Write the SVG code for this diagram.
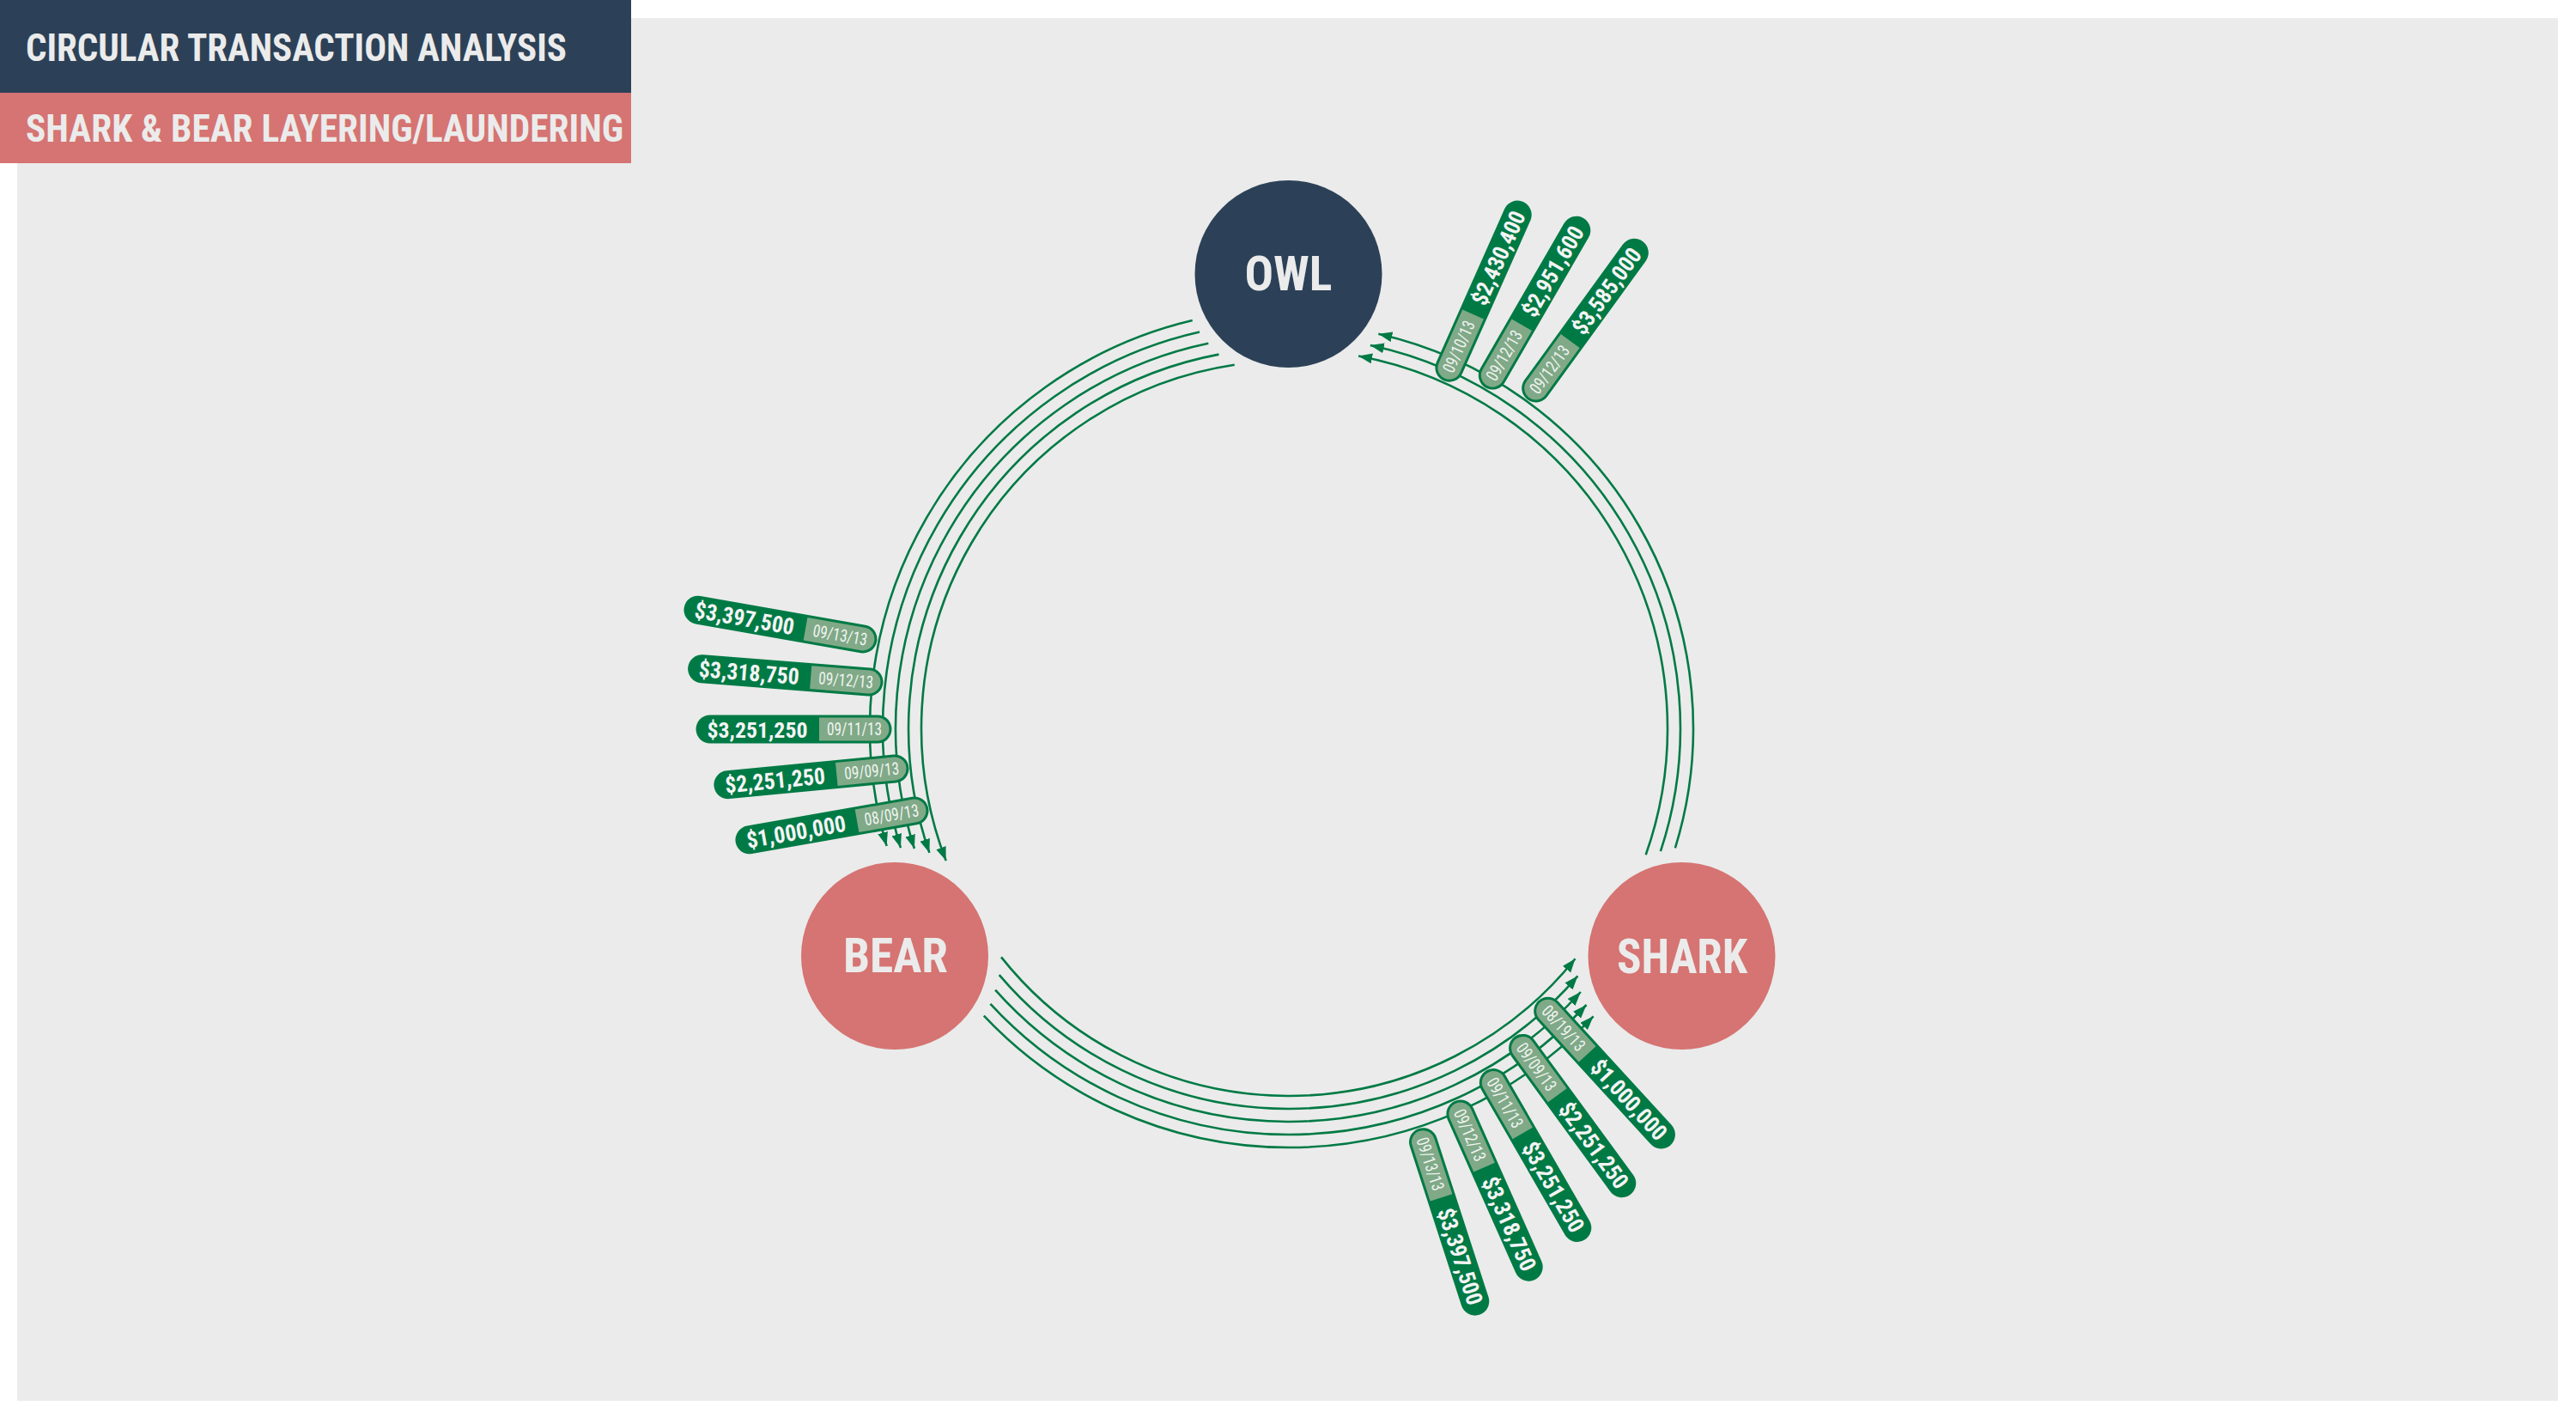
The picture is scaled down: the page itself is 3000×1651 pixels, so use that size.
<svg xmlns="http://www.w3.org/2000/svg" xmlns:xlink="http://www.w3.org/1999/xlink" width="3000" height="1651" viewBox="0 0 3000 1651">
<style>
.cond { font-family: "Liberation Sans Narrow","Roboto Condensed","DejaVu Sans Condensed","Liberation Sans",sans-serif; font-stretch: condensed; }
.title { font-size: 44px; font-weight: 700; fill: #ebebeb; }
.nlabel { font-size: 56px; font-weight: 700; fill: #ebebeb; text-anchor: middle; }
.amt { font-size: 26.5px; font-weight: 700; fill: #f4f4f4; text-anchor: middle; }
.dt { font-size: 20px; font-weight: 400; fill: #f0f4f0; text-anchor: middle; }
.flow { fill: none; stroke: #007a45; stroke-width: 2.6; marker-end: url(#arrow); }
</style>
<defs>
  <marker id="arrow" markerUnits="userSpaceOnUse" markerWidth="17" markerHeight="13" refX="16" refY="6" orient="auto">
    <path d="M0,0 L16,6 L0,12 Z" fill="#007a45"/>
  </marker>
  <g id="pill">
    <rect x="-16.5" y="-16.5" width="228" height="33" rx="16.5" ry="16.5" fill="#007a45"/>
    <path d="M68,-13.5 H0 A13.5,13.5 0 0 0 0,13.5 H68 Z" fill="#80a988"/>
  </g>
</defs>

<rect x="0" y="0" width="3000" height="1651" fill="#ffffff"/>
<rect x="20" y="21" width="2959" height="1610" fill="#ebebeb"/>

<g id="header">
  <rect x="0" y="0" width="735" height="108" fill="#2c4157"/>
  <rect x="0" y="108" width="735" height="82" fill="#d57472"/>
  <text class="cond title" x="30" y="71" textLength="630" lengthAdjust="spacingAndGlyphs">CIRCULAR TRANSACTION ANALYSIS</text>
  <text class="cond title" x="30" y="165" textLength="696" lengthAdjust="spacingAndGlyphs">SHARK &amp; BEAR LAYERING/LAUNDERING</text>
</g>

<g id="connectors">
  <!-- OWL -> BEAR -->
  <path class="flow" d="M1388.7,373.1 A488,488 0 0 0 1032.6,985.0"/>
  <path class="flow" d="M1397.0,386.6 A473,473 0 0 0 1048.9,987.1"/>
  <path class="flow" d="M1407.3,399.7 A458,458 0 0 0 1064.9,988.0"/>
  <path class="flow" d="M1419.5,412.6 A443,443 0 0 0 1082.4,992.9"/>
  <path class="flow" d="M1437.7,424.7 A428,428 0 0 0 1101.7,1002.1"/>
  <!-- BEAR -> SHARK -->
  <path class="flow" d="M1166.0,1114.4 A428,428 0 0 0 1834.5,1116.2"/>
  <path class="flow" d="M1163.7,1135.1 A443,443 0 0 0 1837.4,1136.3"/>
  <path class="flow" d="M1159.1,1152.7 A458,458 0 0 0 1840.8,1155.0"/>
  <path class="flow" d="M1153.4,1168.8 A473,473 0 0 0 1847.5,1170.0"/>
  <path class="flow" d="M1145.8,1182.7 A488,488 0 0 0 1855.6,1183.3"/>
  <!-- SHARK -> OWL -->
  <path class="flow" d="M1916.7,995.2 A441,441 0 0 0 1582.1,414.5"/>
  <path class="flow" d="M1933.9,991.2 A456,456 0 0 0 1595.8,402.0"/>
  <path class="flow" d="M1950.9,987.3 A471,471 0 0 0 1605.3,388.7"/>
</g>

<g id="edge-labels">
  <!-- SHARK -> OWL -->
  <g id="lbl-so-1" transform="translate(1687.9,428.2) rotate(-66)">
    <use href="#pill"/>
    <text class="cond dt" x="27" y="7" textLength="64" lengthAdjust="spacingAndGlyphs">09/10/13</text>
    <text class="cond amt" x="140" y="9.5" textLength="117" lengthAdjust="spacingAndGlyphs">$2,430,400</text>
  </g>
  <g id="lbl-so-2" transform="translate(1738.3,437.1) rotate(-60)">
    <use href="#pill"/>
    <text class="cond dt" x="27" y="7" textLength="64" lengthAdjust="spacingAndGlyphs">09/12/13</text>
    <text class="cond amt" x="140" y="9.5" textLength="117" lengthAdjust="spacingAndGlyphs">$2,951,600</text>
  </g>
  <g id="lbl-so-3" transform="translate(1788.7,452.0) rotate(-54)">
    <use href="#pill"/>
    <text class="cond dt" x="27" y="7" textLength="64" lengthAdjust="spacingAndGlyphs">09/12/13</text>
    <text class="cond amt" x="140" y="9.5" textLength="117" lengthAdjust="spacingAndGlyphs">$3,585,000</text>
  </g>

  <!-- OWL -> BEAR -->
  <g id="lbl-ob-1" transform="translate(1005,744) rotate(10)">
    <use href="#pill" transform="scale(-1,1)"/>
    <text class="cond dt" x="-27" y="7" textLength="64" lengthAdjust="spacingAndGlyphs">09/13/13</text>
    <text class="cond amt" x="-140" y="9.5" textLength="117" lengthAdjust="spacingAndGlyphs">$3,397,500</text>
  </g>
  <g id="lbl-ob-2" transform="translate(1012,794) rotate(4.5)">
    <use href="#pill" transform="scale(-1,1)"/>
    <text class="cond dt" x="-27" y="7" textLength="64" lengthAdjust="spacingAndGlyphs">09/12/13</text>
    <text class="cond amt" x="-140" y="9.5" textLength="117" lengthAdjust="spacingAndGlyphs">$3,318,750</text>
  </g>
  <g id="lbl-ob-3" transform="translate(1022,849) rotate(0)">
    <use href="#pill" transform="scale(-1,1)"/>
    <text class="cond dt" x="-27" y="7" textLength="64" lengthAdjust="spacingAndGlyphs">09/11/13</text>
    <text class="cond amt" x="-140" y="9.5" textLength="117" lengthAdjust="spacingAndGlyphs">$3,251,250</text>
  </g>
  <g id="lbl-ob-4" transform="translate(1042,895) rotate(-5.5)">
    <use href="#pill" transform="scale(-1,1)"/>
    <text class="cond dt" x="-27" y="7" textLength="64" lengthAdjust="spacingAndGlyphs">09/09/13</text>
    <text class="cond amt" x="-140" y="9.5" textLength="117" lengthAdjust="spacingAndGlyphs">$2,251,250</text>
  </g>
  <g id="lbl-ob-5" transform="translate(1065,944) rotate(-10)">
    <use href="#pill" transform="scale(-1,1)"/>
    <text class="cond dt" x="-27" y="7" textLength="64" lengthAdjust="spacingAndGlyphs">08/09/13</text>
    <text class="cond amt" x="-140" y="9.5" textLength="117" lengthAdjust="spacingAndGlyphs">$1,000,000</text>
  </g>

  <!-- BEAR -> SHARK -->
  <g id="lbl-bs-1" transform="translate(1802.7,1177.2) rotate(47.5)">
    <use href="#pill"/>
    <text class="cond dt" x="27" y="7" textLength="64" lengthAdjust="spacingAndGlyphs">08/19/13</text>
    <text class="cond amt" x="140" y="9.5" textLength="117" lengthAdjust="spacingAndGlyphs">$1,000,000</text>
  </g>
  <g id="lbl-bs-2" transform="translate(1773.6,1220.4) rotate(53.8)">
    <use href="#pill"/>
    <text class="cond dt" x="27" y="7" textLength="64" lengthAdjust="spacingAndGlyphs">09/09/13</text>
    <text class="cond amt" x="140" y="9.5" textLength="117" lengthAdjust="spacingAndGlyphs">$2,251,250</text>
  </g>
  <g id="lbl-bs-3" transform="translate(1739.3,1260.6) rotate(60)">
    <use href="#pill"/>
    <text class="cond dt" x="27" y="7" textLength="64" lengthAdjust="spacingAndGlyphs">09/11/13</text>
    <text class="cond amt" x="140" y="9.5" textLength="117" lengthAdjust="spacingAndGlyphs">$3,251,250</text>
  </g>
  <g id="lbl-bs-4" transform="translate(1700.9,1297.0) rotate(66)">
    <use href="#pill"/>
    <text class="cond dt" x="27" y="7" textLength="64" lengthAdjust="spacingAndGlyphs">09/12/13</text>
    <text class="cond amt" x="140" y="9.5" textLength="117" lengthAdjust="spacingAndGlyphs">$3,318,750</text>
  </g>
  <g id="lbl-bs-5" transform="translate(1657.5,1329.7) rotate(72)">
    <use href="#pill"/>
    <text class="cond dt" x="27" y="7" textLength="64" lengthAdjust="spacingAndGlyphs">09/13/13</text>
    <text class="cond amt" x="140" y="9.5" textLength="117" lengthAdjust="spacingAndGlyphs">$3,397,500</text>
  </g>
</g>

<g id="node-owl">
  <circle cx="1500.5" cy="319" r="109" fill="#2c4157"/>
  <text class="cond nlabel" x="1500.5" y="338" textLength="102" lengthAdjust="spacingAndGlyphs">OWL</text>
</g>
<g id="node-bear">
  <circle cx="1042" cy="1113" r="109" fill="#d57472"/>
  <text class="cond nlabel" x="1043" y="1132" textLength="122" lengthAdjust="spacingAndGlyphs">BEAR</text>
</g>
<g id="node-shark">
  <circle cx="1958.5" cy="1113" r="109" fill="#d57472"/>
  <text class="cond nlabel" x="1959" y="1133" textLength="152" lengthAdjust="spacingAndGlyphs">SHARK</text>
</g>
</svg>
